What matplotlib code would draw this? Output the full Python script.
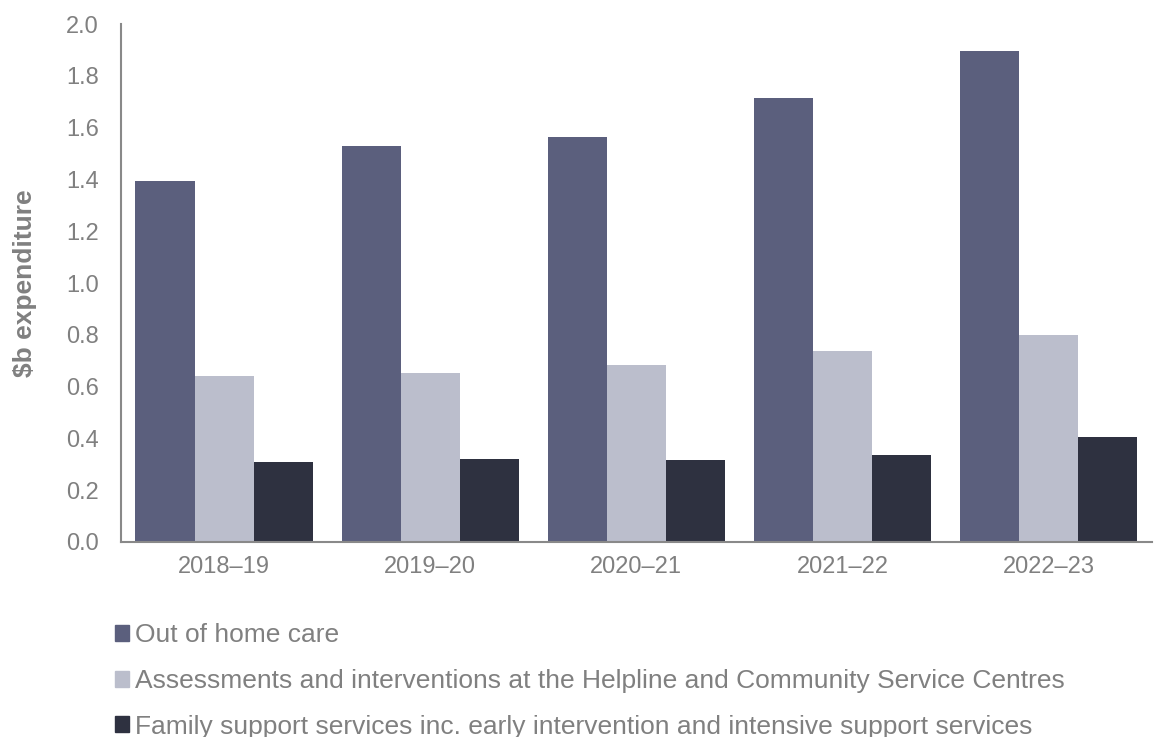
import numpy as np
import matplotlib.pyplot as plt
from matplotlib.patches import Patch

plt.rcParams['font.family'] = ['Liberation Sans', 'DejaVu Sans']

years = ['2018–19', '2019–20', '2020–21', '2021–22', '2022–23']
out_of_home = [1.394, 1.529, 1.564, 1.714, 1.896]
assessments = [0.641, 0.652, 0.683, 0.737, 0.799]
family_support = [0.309, 0.320, 0.317, 0.336, 0.405]

labels = ['Out of home care',
          'Assessments and interventions at the Helpline and Community Service Centres',
          'Family support services inc. early intervention and intensive support services']
colors = ['#5B5F7D', '#BBBECC', '#2E3140']
grey = '#808080'

fig = plt.figure(figsize=(11.54, 7.37), dpi=100)
ax = fig.add_axes([0.1049, 0.2646, 0.8931, 0.7028])

x = np.arange(len(years))
w = 0.287
for i, vals in enumerate([out_of_home, assessments, family_support]):
    ax.bar(x + (i - 1) * w, vals, w, color=colors[i], label=labels[i])

ax.set_xlim(-0.5, len(years) - 0.5)
ax.set_ylim(0, 2.0)
ax.set_yticks(np.arange(0, 2.01, 0.2))
ax.set_yticklabels([f'{v:.1f}' for v in np.arange(0, 2.01, 0.2)])
ax.set_xticks(x)
ax.set_xticklabels(years)
ax.tick_params(length=0, labelsize=17, colors=grey, pad=10)
ax.tick_params(axis='y', pad=16)
for s in ['top', 'right']:
    ax.spines[s].set_visible(False)
for s in ['left', 'bottom']:
    ax.spines[s].set_color('#898989')
    ax.spines[s].set_linewidth(1.5)

ax.set_ylabel('$b expenditure', fontsize=19, fontweight='bold', color=grey, labelpad=21)

handles = [Patch(color=c) for c in colors]
fig.legend(handles, labels, loc='upper left', bbox_to_anchor=(0.088, 0.172),
           frameon=False, fontsize=19, labelcolor=grey, handlelength=0.55,
           handleheight=0.55, handletextpad=0.2, labelspacing=0.82, borderpad=0)

fig.savefig('out.png', dpi=100)
